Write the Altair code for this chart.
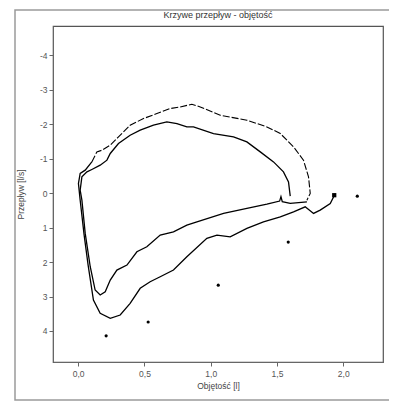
import altair as alt
import pandas as pd

# Inner (solid) flow-volume loop: volume [l], flow [l/s]
inner_vol = [1.726, 1.600, 1.540, 1.530, 1.520, 1.424, 1.273, 1.097, 0.896, 0.820, 0.719, 0.619, 0.518,
             0.443, 0.368, 0.292, 0.242, 0.204, 0.166, 0.128, 0.091, 0.053, 0.028, 0.015, 0.028,
             0.066, 0.103, 0.166, 0.217, 0.242, 0.304, 0.392, 0.468, 0.568, 0.669, 0.745, 0.820,
             0.870, 1.021, 1.172, 1.273, 1.374, 1.474, 1.549, 1.587, 1.600]
inner_flow = [0.252, 0.299, 0.250, 0.100, 0.230, 0.319, 0.443, 0.588, 0.832, 0.928, 1.122, 1.217, 1.557,
              1.701, 2.087, 2.232, 2.522, 2.861, 2.957, 2.812, 2.136, 1.168, 0.203, -0.087, -0.472,
              -0.617, -0.687, -0.812, -0.957, -1.151, -1.441, -1.681, -1.826, -1.971, -2.067, -2.020, -1.922,
              -1.922, -1.730, -1.632, -1.487, -1.197, -0.907, -0.617, -0.328, 0.087]

# Outer loop, inspiratory/lower part
outer_low_vol = [1.940, 1.902, 1.826, 1.776, 1.713, 1.625, 1.525, 1.398, 1.273, 1.147, 1.047, 0.971,
                 0.820, 0.719, 0.619, 0.543, 0.468, 0.392, 0.317, 0.242, 0.166, 0.115, 0.075, 0.045,
                 0.015, 0.002, 0.015, 0.053, 0.103]
outer_low_flow = [0.009, 0.299, 0.493, 0.588, 0.397, 0.542, 0.687, 0.832, 1.023, 1.267, 1.217, 1.313,
                  1.846, 2.232, 2.426, 2.571, 2.762, 3.197, 3.536, 3.632, 3.487, 3.101, 2.087, 1.217,
                  0.203, -0.281, -0.571, -0.667, -0.907]

# Outer loop, expiratory/upper part (broken line)
outer_up_vol = [0.103, 0.141, 0.179, 0.242, 0.304, 0.392, 0.493, 0.594, 0.694, 0.770, 0.858, 0.921,
                1.072, 1.273, 1.424, 1.525, 1.625, 1.700, 1.738, 1.751, 1.726]
outer_up_flow = [-0.907, -1.197, -1.246, -1.391, -1.632, -1.971, -2.165, -2.310, -2.455, -2.501, -2.580, -2.501,
                 -2.261, -2.116, -1.922, -1.730, -1.342, -0.957, -0.472, 0.009, 0.203]

# Predicted points
pred_vol = [2.106, 1.585, 1.057, 0.528, 0.211]
pred_flow = [0.087, 1.42, 2.67, 3.74, 4.14]

# End marker
end_vol = [1.932]
end_flow = [0.06]

title_text = ["Krzywe przepływ - objętość"]

rows = []
for i, (v, f) in enumerate(zip(inner_vol, inner_flow)):
    rows.append({"v": v, "f": f, "s": "inner", "o": i})
for i, (v, f) in enumerate(zip(outer_low_vol, outer_low_flow)):
    rows.append({"v": v, "f": f, "s": "outer_low", "o": i})
df_lines = pd.DataFrame(rows)
df_up = pd.DataFrame({"v": outer_up_vol, "f": outer_up_flow, "o": list(range(len(outer_up_vol)))})
df_pred = pd.DataFrame({"v": pred_vol, "f": pred_flow})
df_end = pd.DataFrame({"v": end_vol, "f": end_flow})

xs = alt.Scale(domain=[-0.19, 2.3], nice=False, zero=False)
ys = alt.Scale(domain=[-4.85, 4.9], nice=False, zero=False, reverse=True)

xax = alt.Axis(title="Objętość [l]", values=[0, 0.5, 1.0, 1.5, 2.0],
               labelExpr="replace(format(datum.value, '.1f'), '.', ',')",
               grid=False, tickSize=4, labelPadding=3, titlePadding=4)
yax = alt.Axis(title="Przepływ [l/s]", values=[-4, -3, -2, -1, 0, 1, 2, 3, 4],
               labelExpr="'' + datum.value",
               grid=False, tickSize=4, labelPadding=2, titlePadding=14)

frame = alt.Chart(pd.DataFrame({"a": [0]})).mark_rect(
    fill=None, stroke="#9a9a9a", strokeWidth=1.5
).encode(x=alt.value(-38), x2=alt.value(342), y=alt.value(-16), y2=alt.value(374))

title = alt.Chart(pd.DataFrame({"t": title_text})).mark_text(
    fontSize=9, color="#333333", font="Liberation Sans", baseline="middle", align="center"
).encode(x=alt.value(165), y=alt.value(-11), text="t:N")

lines = alt.Chart(df_lines).mark_line(color="black", strokeWidth=1.3, clip=True).encode(
    x=alt.X("v:Q", scale=xs, axis=xax),
    y=alt.Y("f:Q", scale=ys, axis=yax),
    detail="s:N",
    order="o:Q",
)
upper = alt.Chart(df_up).mark_line(color="black", strokeWidth=1.1, strokeDash=[7, 2]).encode(
    x=alt.X("v:Q", scale=xs), y=alt.Y("f:Q", scale=ys), order="o:Q"
)
pts = alt.Chart(df_pred).mark_point(filled=True, color="black", size=10, opacity=1).encode(
    x=alt.X("v:Q", scale=xs), y=alt.Y("f:Q", scale=ys)
)
endm = alt.Chart(df_end).mark_point(shape="square", filled=True, color="black", size=18, opacity=1).encode(
    x=alt.X("v:Q", scale=xs), y=alt.Y("f:Q", scale=ys)
)

chart = alt.layer(frame, lines, upper, pts, endm, title).properties(
    width=330, height=336,
    autosize=alt.AutoSizeParams(type="none"),
    padding={"left": 45, "top": 18, "right": 6, "bottom": 41},
).configure_view(
    stroke="#555555", strokeWidth=1.2
).configure_axis(
    domainColor="#666666", tickColor="#666666", labelColor="#555555", titleColor="#444444",
    labelFont="Liberation Sans", titleFont="Liberation Sans", labelFontSize=8.5, titleFontSize=8.5,
    titleFontWeight="normal"
)

chart.save("out.html", embed_options={"renderer": "svg", "actions": False})
